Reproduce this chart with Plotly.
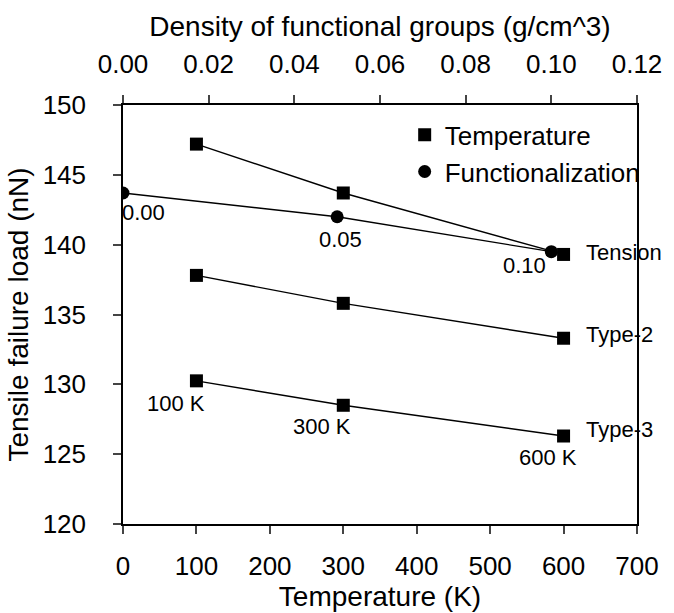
import plotly.graph_objects as go

# Temperature series (bottom axis)
temperatures = [100, 300, 600]
temp_labels = ["100 K", "300 K", "600 K"]
tension = [147.2, 143.7, 139.3]
type2 = [137.8, 135.8, 133.3]
type3 = [130.25, 128.5, 126.3]
series_names = ["Tension", "Type-2", "Type-3"]

# Functionalization series (top axis)
density = [0.00, 0.05, 0.10]
func_load = [143.7, 142.0, 139.5]

x_ticks = [0, 100, 200, 300, 400, 500, 600, 700]
x2_ticks = [0.00, 0.02, 0.04, 0.06, 0.08, 0.10, 0.12]
y_ticks = [120, 125, 130, 135, 140, 145, 150]

FONT = "Liberation Sans, Arial, sans-serif"
fig = go.Figure()

line_style = dict(color="black", width=1.4)
for name, vals in zip(series_names, [tension, type2, type3]):
    fig.add_trace(go.Scatter(x=temperatures, y=vals, mode="lines",
                             line=line_style, showlegend=False, hoverinfo="skip"))
fig.add_trace(go.Scatter(x=density, y=func_load, mode="lines", xaxis="x2",
                         line=line_style, showlegend=False, hoverinfo="skip"))

for i, (name, vals) in enumerate(zip(series_names, [tension, type2, type3])):
    fig.add_trace(go.Scatter(x=temperatures, y=vals, mode="markers", name="Temperature",
                             legendgroup="temp", showlegend=(i == 0),
                             marker=dict(symbol="square", size=13, color="black")))
fig.add_trace(go.Scatter(x=density, y=func_load, mode="markers", xaxis="x2",
                         name="Functionalization",
                         marker=dict(symbol="circle", size=13, color="black")))

ann_font = dict(family=FONT, size=22, color="black")
annotations = []
# density labels under the circles
for d, v, (dx, dy) in zip(density, func_load, [(20, -20), (3, -23), (-27, -14)]):
    annotations.append(dict(x=d, y=v, xref="x2", yref="y", text=f"{d:.2f}",
                            showarrow=False, xshift=dx, yshift=dy, font=ann_font))
# temperature labels under Type-3
for t, v, lab, (dx, dy) in zip(temperatures, type3, temp_labels,
                               [(-20, -23), (-21, -21), (-16, -21)]):
    annotations.append(dict(x=t, y=v, xref="x", yref="y", text=lab,
                            showarrow=False, xshift=dx, yshift=dy, font=ann_font))
# series names to the right of the 600 K markers
for name, vals, dy in zip(series_names, [tension, type2, type3], [2, 4, 7]):
    annotations.append(dict(x=temperatures[-1], y=vals[-1], xref="x", yref="y",
                            text=name, showarrow=False, xanchor="left",
                            xshift=20, yshift=dy, font=ann_font))

tick_font = dict(family=FONT, size=26, color="black")
title_font = dict(family=FONT, size=28, color="black")

fig.update_layout(
    width=674, height=613,
    margin=dict(l=123, r=27, t=105, b=89),
    paper_bgcolor="white", plot_bgcolor="white",
    font=dict(family=FONT, color="black"),
    annotations=annotations,
    xaxis=dict(range=[0, 700], tickvals=x_ticks, ticks="outside", ticklen=8,
               tickwidth=1.5, showline=True, linewidth=1.5, linecolor="black",
               showgrid=False, zeroline=False, tickfont=tick_font,
               ticklabelstandoff=10,
               title=dict(text="Temperature (K)", font=title_font, standoff=0)),
    xaxis2=dict(range=[0, 0.12], tickvals=x2_ticks, tickformat=".2f",
                overlaying="x", side="top", ticks="outside", ticklen=8,
                tickwidth=1.5, showline=True, linewidth=1.5, linecolor="black",
                showgrid=False, zeroline=False, tickfont=tick_font,
                ticklabelstandoff=12,
                title=dict(text="Density of functional groups (g/cm^3)",
                           font=title_font, standoff=4)),
    yaxis=dict(range=[120, 150], tickvals=y_ticks, ticks="outside", ticklen=8,
               tickwidth=1.5, showline=True, linewidth=1.5, linecolor="black",
               mirror=True, showgrid=False, zeroline=False, tickfont=tick_font,
               ticklabelstandoff=22,
               title=dict(text="Tensile failure load (nN)", font=title_font, standoff=6)),
    legend=dict(x=0.548, y=0.985, xanchor="left", yanchor="top",
                bgcolor="rgba(0,0,0,0)", font=dict(family=FONT, size=26, color="black"),
                tracegroupgap=0, itemwidth=30),
)

fig.write_html("out.html")
